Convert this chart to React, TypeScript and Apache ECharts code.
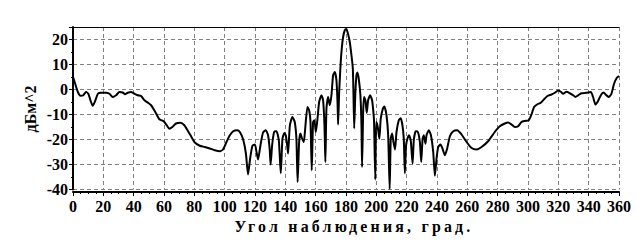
import React, { useEffect, useRef } from "react";
import * as echarts from "echarts";

const angles = [
  0, 1.4, 3.2, 4.9, 6.6, 8.6, 10.1, 11.5, 13, 14.6, 16.4, 18.5, 21.8, 24, 26.2, 28.4, 30.6, 32.8, 34.3, 36.1,
  38.3, 40, 42.7, 44.9, 47.1, 49.7, 51.5, 53.2, 54.8, 56.9, 59.8, 61.8, 63.5, 65.7, 67.9, 70.8, 73.4, 75.9,
  78.1, 80.3, 83.6, 86.9, 90.2, 93.5, 96.8, 99, 101.2, 103.4, 105.6, 108.2, 110, 112.2, 114, 115.4, 116.8,
  118.3, 119.9, 121, 122, 123.6, 125.3, 127.1, 128.6, 129.7, 130.3, 131.3, 132.6, 134.1, 135.7, 137, 138.1,
  139.4, 140.3, 141.2, 141.8, 143, 144.7, 146.2, 147.3, 148.1, 149.1, 150, 151.1, 152.2, 153.1, 154.6, 155.7,
  156.6, 157.4, 158.3, 159.2, 160.1, 161.2, 162.3, 163.8, 164.9, 165.8, 166.4, 167.1, 168.2, 169.3, 170.4,
  171.5, 172.6, 173.7, 174.4, 174.8, 175.5, 176.4, 177.2, 178.1, 179.2, 180.3, 181, 182.3, 183.6, 184.5,
  184.9, 185.4, 186.2, 186.9, 187.5, 188.4, 189.5, 190.2, 190.6, 191.3, 191.9, 192.8, 193.7, 194.6, 195.9,
  197.2, 198.1, 198.5, 199.3, 199.9, 200.7, 201.4, 202, 202.9, 204.3, 205.3, 206.7, 207.8, 208.8, 209.5,
  210.4, 211.3, 212.3, 213.3, 214.8, 216.1, 217.2, 218.1, 218.8, 219.6, 220.5, 221.6, 222.7, 223.9, 224.7,
  226, 227.4, 228.7, 229.6, 230.5, 231.3, 232.4, 233.1, 234.6, 236, 237.5, 238.6, 239.7, 240.8, 242.3,
  243.6, 245.2, 246.7, 248.5, 250.7, 253.3, 256.2, 259.5, 262.8, 266.1, 269.4, 273.7, 278.1, 281.4, 284.7,
  286.9, 289.1, 291.3, 293.5, 295.7, 297.9, 300.5, 302.3, 304, 306.2, 308.4, 310.6, 312.8, 315.5, 317.7,
  319.9, 321.6, 323.2, 325.4, 327.6, 329.8, 331.3, 333.1, 335.2, 338.5, 341.4, 342.9, 344.5, 346.2, 348,
  349.8, 351.7, 353.3, 355, 356.8, 358.5, 360,
];

const rcsDb = [
  5.0, 2.4, -1, -2.5, -2.4, -1, -1.7, -4.3, -6.5, -4.6, -1.7, -1.3, -1.3, -1.7, -3, -2.3, -1, -1.2, -1.9, -1.3,
  -1, -1.5, -2.3, -2.6, -4.3, -5.4, -6.3, -7.9, -9.6, -11.9, -12.7, -14.3, -15.7, -14.9, -13.6, -13.3, -14.3,
  -16.7, -19, -21.2, -22.5, -23, -23.6, -24.3, -24.7, -23.9, -21, -18.3, -16.7, -16.3, -17, -20, -25.6, -34,
  -27.6, -22.5, -22, -25, -28, -22.3, -17.2, -16.3, -18.3, -24, -30, -22.3, -17, -16.7, -20.3, -33.5, -19.7,
  -17.4, -18.3, -22.3, -25.6, -14.3, -11, -13, -19.7, -37, -21, -17.6, -19.7, -21, -15.6, -7, -8.3, -13,
  -32.3, -13, -12.3, -17, -11.7, -5, -2.3, -4.3, -14.3, -29, -7.7, -3, -6.3, -2.3, 5.7, 7, 3.7, -5, -14, -1,
  9.7, 16.4, 21, 23.7, 24.2, 23, 19.7, 13.7, 8.4, -1, -15.6, -1, 5.7, 6.8, 4.3, -2.3, -14.3, -31, -9.3, -3,
  -4.3, -9.3, -4.3, -2.3, -4.3, -9.3, -13, -36, -13, -14.3, -17, -19.7, -11.7, -7.7, -6.8, -10.3, -18.3,
  -39.8, -19.7, -17.6, -21, -24, -17, -12.3, -11.5, -14.3, -19.7, -33.5, -22.3, -19.7, -18.3, -20.5, -29.6,
  -20.3, -16.7, -17, -21, -29, -19.7, -18.3, -21.7, -18.3, -16.3, -18.3, -25, -34.5, -27.6, -23, -22, -23.6,
  -26.3, -23.6, -18.7, -16.7, -16.3, -18, -21, -23.4, -24, -23, -20.7, -17, -14.7, -13.6, -13.2, -14, -15,
  -14.7, -13, -12.6, -12.3, -10, -7, -5.9, -5.3, -3.9, -2.6, -2, -1.3, -0.4, -0.9, -1.7, -0.9, -1.5, -2.3,
  -3, -2.3, -1.5, -1.3, -1, -3, -6, -4.6, -2.3, -1.2, -2.3, -3, -1.7, 2.4, 4.6, 5.4,
];

const xTitle = "Угол наблюдения, град.";
const yTitle = "дБм^2";

export default function App() {
  const ref = useRef<HTMLDivElement>(null);
  useEffect(() => {
    document.body.style.margin = "0";
    const styleEl = document.createElement("style");
    styleEl.textContent = 'text[style*="15.9px"] { letter-spacing: 3.2px; }';
    document.head.appendChild(styleEl);
    if (!ref.current) return;
    const chart = echarts.init(ref.current, null, { renderer: "svg" });
    const font = "'Liberation Serif', 'Times New Roman', serif";
    const data = angles.map((a, i) => [a, rcsDb[i]]);
    chart.setOption({
      animation: false,
      backgroundColor: "#fff",
      grid: { left: 73, right: 18, top: 27, bottom: 56.5 },
      xAxis: [
        {
          type: "value",
          min: 0,
          max: 360,
          interval: 20,
          offset: 2.5,
          axisLine: { show: true, onZero: false, lineStyle: { color: "#000", width: 2 } },
          axisTick: { show: true, length: 4, lineStyle: { color: "#000" } },
          minorTick: { show: true, splitNumber: 4, length: 2, lineStyle: { color: "#000" } },
          axisLabel: { color: "#000", fontFamily: font, fontSize: 16, fontWeight: "bold", margin: 6 },
          splitLine: { show: true, lineStyle: { color: "#808080", type: [4, 3], width: 1 } },
        },
        {
          type: "value",
          position: "top",
          min: 0,
          max: 360,
          axisLine: { show: true, onZero: false, lineStyle: { color: "#000", width: 1 } },
          axisTick: { show: false },
          axisLabel: { show: false },
          splitLine: { show: false },
        },
      ],
      yAxis: {
        type: "value",
        min: -40,
        max: 25,
        interval: 10,
        axisLine: { show: true, onZero: false, lineStyle: { color: "#000", width: 2 } },
        axisTick: { show: true, length: 4, lineStyle: { color: "#000" } },
        minorTick: { show: true, splitNumber: 2, length: 2, lineStyle: { color: "#000" } },
        axisLabel: {
          color: "#000",
          fontFamily: font,
          fontSize: 16,
          fontWeight: "bold",
          margin: 5,
          formatter: (v: number) => (v % 10 === 0 ? String(v) : ""),
        },
        splitLine: { show: true, lineStyle: { color: "#808080", type: [4, 3], width: 1 } },
      },
      graphic: [
        {
          type: "text",
          x: 354,
          y: 226,
          style: {
            text: xTitle,
            fill: "#000",
            font: `bold 15.9px ${font}`,
            align: "center",
            verticalAlign: "middle",
          },
        },
        {
          type: "text",
          x: 30,
          y: 109,
          rotation: Math.PI / 2,
          style: {
            text: yTitle,
            fill: "#000",
            font: `bold 16px ${font}`,
            align: "center",
            verticalAlign: "middle",
          },
        },
      ],
      series: [
        {
          type: "line",
          xAxisIndex: 0,
          data,
          showSymbol: false,
          smooth: 0.2,
          lineStyle: { color: "#000", width: 2 },
        },
      ],
    });
    return () => {
      chart.dispose();
      styleEl.remove();
    };
  }, []);
  return (
    <div
      ref={ref}
      style={{ position: "fixed", left: 0, top: 0, width: 637, height: 246, background: "#fff" }}
    />
  );
}
